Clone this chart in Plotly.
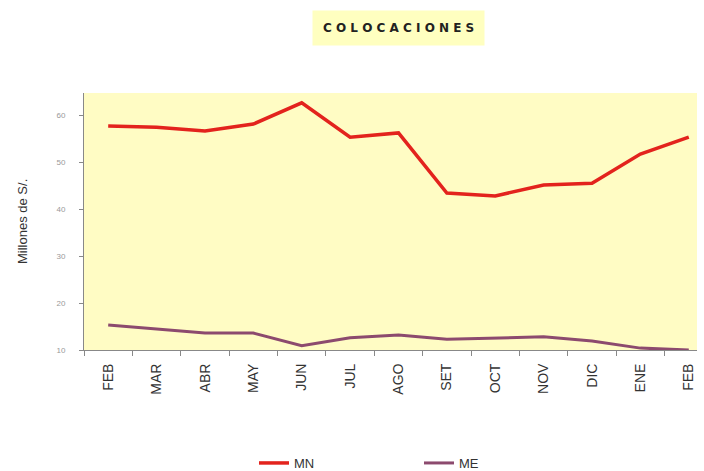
import plotly.graph_objects as go

months = ["FEB", "MAR", "ABR", "MAY", "JUN", "JUL", "AGO", "SET", "OCT", "NOV", "DIC", "ENE", "FEB"]
mn = [57.7, 57.4, 56.6, 58.1, 62.6, 55.3, 56.2, 43.4, 42.8, 45.1, 45.5, 51.7, 55.3]
me = [15.3, 14.5, 13.6, 13.6, 10.9, 12.6, 13.2, 12.3, 12.6, 12.8, 11.9, 10.4, 10.0]
ytick_vals = [10, 20, 30, 40, 50, 60]
ytick_text = ["10", "20", "30", "40", "50", "60"]

xpos = list(range(len(months)))
boundaries = [i - 0.5 for i in range(len(months) + 1)]

L, R, T, B = 84, 7, 93, 121
W, H = 704, 471
pw, ph = W - L - R, H - T - B

fig = go.Figure()
fig.add_trace(go.Scatter(x=xpos, y=mn, mode="lines", name="MN",
                         line=dict(color="#e3231d", width=3.5)))
fig.add_trace(go.Scatter(x=xpos, y=me, mode="lines", name="ME",
                         line=dict(color="#8c4a6e", width=3)))

fig.update_layout(
    width=W, height=H,
    margin=dict(l=L, r=R, t=T, b=B),
    paper_bgcolor="white",
    plot_bgcolor="#fffcc4",
    showlegend=True,
    legend=dict(orientation="h", xref="container", yref="container",
                x=254 / W, y=1 - 463 / H, xanchor="left", yanchor="middle",
                entrywidth=120, entrywidthmode="pixels",
                font=dict(family="Arial, Liberation Sans", size=13, color="#333333"),
                bgcolor="rgba(0,0,0,0)"),
    annotations=[
        dict(text="<b>C O L O C A C I O N E S</b>", xref="paper", yref="paper",
             x=(398 - L) / pw, y=1 + (T - 28) / ph, xanchor="center", yanchor="middle",
             showarrow=False, bgcolor="#ffffc0", borderpad=10,
             font=dict(family="Arial Black, DejaVu Sans, Liberation Sans", size=12, color="#222222")),
        dict(text="Millones de S/.", xref="paper", yref="paper",
             x=(22 - L) / pw, y=(H - B - 222) / ph, xanchor="center", yanchor="middle",
             textangle=-90, showarrow=False,
             font=dict(family="Arial, Liberation Sans", size=13, color="#333333")),
    ],
)
fig.update_xaxes(range=[-0.5, 12.17], showgrid=False, zeroline=False,
                 showline=True, linecolor="#888888", linewidth=1,
                 tickvals=xpos, ticktext=months, ticks="", tickangle=-90,
                 ticklabelstandoff=7,
                 minor=dict(tickvals=boundaries, ticks="outside", ticklen=5, tickcolor="#888888", showgrid=False),
                 tickfont=dict(family="Arial, Liberation Sans", size=14, color="#333333"))
fig.update_yaxes(range=[10, 64.7], tickvals=ytick_vals, ticktext=ytick_text, showgrid=False,
                 zeroline=False, showline=True, linecolor="#888888", linewidth=1,
                 ticks="outside", ticklen=4, tickcolor="#888888", automargin=False,
                 ticklabelstandoff=12,
                 tickfont=dict(family="Arial, Liberation Sans", size=8, color="#999999"))

fig.write_html("out.html", config={"displayModeBar": False},
               post_script="document.body.style.margin='0';document.body.style.overflow='hidden';")
